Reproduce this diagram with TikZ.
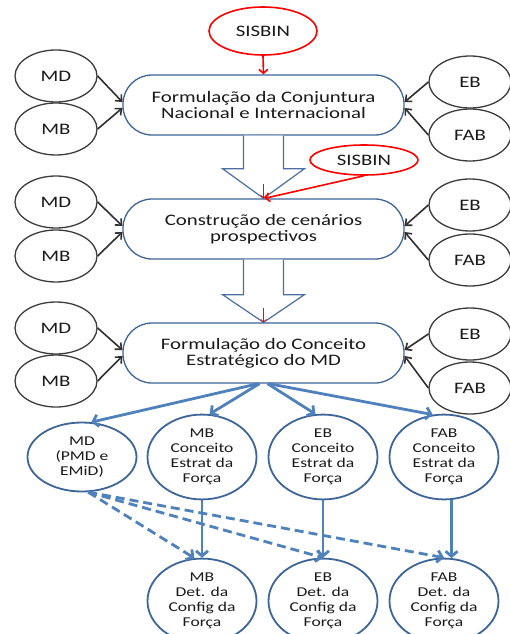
\documentclass[tikz,border=0pt]{standalone}
\usepackage{fontspec}
\setmainfont{Carlito}[FakeStretch=1.3]
\usetikzlibrary{shapes.geometric,arrows.meta,calc}
\definecolor{boxblue}{HTML}{3D6598}
\definecolor{blockblue}{HTML}{4A6FA0}
\definecolor{arrblue}{HTML}{4F81BD}
\definecolor{ellgray}{HTML}{3C3C3C}
\definecolor{arrgray}{HTML}{303030}
\definecolor{txt}{HTML}{1A1A1A}
\begin{document}
\begin{tikzpicture}[x=1pt,y=-1pt,
  bigfont/.style={font=\fontsize{16}{16}\selectfont, text=txt},
  smallfont/.style={font=\fontsize{13.5}{15}\selectfont, text=txt},
  grayell/.style={ellipse, draw=ellgray, line width=1.3pt, minimum width=82pt, minimum height=52pt, inner sep=0pt, bigfont},
  redell/.style={ellipse, draw=red, line width=1.6pt, minimum width=108pt, minimum height=48pt, inner sep=0pt, bigfont},
  mainbox/.style={rectangle, rounded corners=29pt, draw=boxblue, line width=1.3pt, minimum width=281pt, minimum height=60pt, align=center, inner sep=0pt, fill=white, bigfont},
  botell/.style={ellipse, draw=boxblue, line width=1.8pt, minimum width=109pt, minimum height=69pt, inner sep=0pt, smallfont},
  detell/.style={botell, minimum height=62pt},
  grayarr/.style={draw=arrgray, line width=1.6pt, -{Straight Barb[length=5pt,width=9pt]}},
  bluearr/.style={draw=arrblue, line width=2.8pt, -{Straight Barb[length=5pt,width=12pt]}},
  dasharr/.style={bluearr, dash pattern=on 9pt off 5pt},
  redarr/.style={draw=red, line width=1.6pt, -{Straight Barb[length=4pt,width=9pt]}},
  thinred/.style={draw=red, line width=0.6pt, -{Straight Barb[length=3pt,width=6pt]}},
  blockarr/.style={draw=blockblue, line width=1.2pt, fill=white}
]
\useasboundingbox (0,0) rectangle (510,634);
\fill[white] (0,0) rectangle (510,634);

% row 1
\node[redell] (s1) at (263,31) {SISBIN};
\node[mainbox] (b1) at (263.5,105) {Formulação da Conjuntura\\Nacional e Internacional};
\node[grayell] (md1) at (56,76) {MD};
\node[grayell] (mb1) at (56,129) {MB};
\node[grayell] (eb1) at (470,82) {EB};
\node[grayell] (fab1) at (470,135) {FAB};

% row 2
\node[mainbox] (b2) at (263.5,229) {Construção de cenários\\prospectivos};
\node[redell, minimum height=30pt] (s2) at (364,160) {SISBIN};
\node[grayell] (md2) at (56,202) {MD};
\node[grayell] (mb2) at (56,256) {MB};
\node[grayell] (eb2) at (470,205) {EB};
\node[grayell] (fab2) at (470,260) {FAB};

% row 3
\node[mainbox] (b3) at (263.5,353) {Formulação do Conceito\\Estratégico do MD};
\node[grayell] (md3) at (56,328) {MD};
\node[grayell] (mb3) at (56,381) {MB};
\node[grayell] (eb3) at (470,334) {EB};
\node[grayell] (fab3) at (470,388) {FAB};

% bottom rows
\node[botell] (c0) at (82,457) {\raisebox{-4pt}{\begin{tabular}{@{}c@{}}MD\\(PMD e\\EMiD)\end{tabular}}};
\node[botell] (c1) at (202,457) {\raisebox{-4pt}{\begin{tabular}{@{}c@{}}MB\\Conceito\\Estrat da\\Força\end{tabular}}};
\node[botell] (c2) at (323,457) {\raisebox{-4pt}{\begin{tabular}{@{}c@{}}EB\\Conceito\\Estrat da\\Força\end{tabular}}};
\node[botell] (c3) at (444,457) {\raisebox{-4pt}{\begin{tabular}{@{}c@{}}FAB\\Conceito\\Estrat da\\Força\end{tabular}}};
\node[detell] (d1) at (202,601) {\begin{tabular}{@{}c@{}}MB\\Det. da\\Config da\\Força\end{tabular}};
\node[detell] (d2) at (323,601) {\begin{tabular}{@{}c@{}}EB\\Det. da\\Config da\\Força\end{tabular}};
\node[detell] (d3) at (444,601) {\begin{tabular}{@{}c@{}}FAB\\Det. da\\Config da\\Força\end{tabular}};

% block arrows
\draw[blockarr] ($(b1.south)+(-20,0)$) -- ($(b1.south)+(-20,33)$) -- ($(b1.south)+(-41,33)$) -- (b2.north) -- ($(b1.south)+(41,33)$) -- ($(b1.south)+(20,33)$) -- ($(b1.south)+(20,0)$);
\draw[blockarr] ($(b2.south)+(-20,0)$) -- ($(b2.south)+(-20,35)$) -- ($(b2.south)+(-41,35)$) -- (b3.north) -- ($(b2.south)+(41,35)$) -- ($(b2.south)+(20,35)$) -- ($(b2.south)+(20,0)$);

% red arrows
\draw[redarr] (s1.south) -- (b1.north);
\draw[redarr] (s2.south) -- ($(b2.north)+(1,0)$);
\coordinate (r1) at ($(b2.north)+(0,-14)$);
\coordinate (r2) at ($(b3.north)+(0,-14)$);
\draw[thinred] (r1) -- (b2.north);
\draw[thinred] (r2) -- (b3.north);

% gray arrows
\foreach \r in {1,2,3}{
  \draw[grayarr] (md\r.east) -- ($(b\r.west)+(0,-3)$);
  \draw[grayarr] (mb\r.east) -- ($(b\r.west)+(0,3)$);
  \draw[grayarr] (eb\r.west) -- ($(b\r.east)+(0,-3)$);
  \draw[grayarr] (fab\r.west) -- ($(b\r.east)+(0,3)$);
}

% blue arrows
\draw[bluearr] ($(b3.south)+(-5,0)$) -- (c0.75);
\draw[bluearr] ($(b3.south)+(-4,0)$) -- (c1.80);
\draw[bluearr] ($(b3.south)+(4,0)$) -- (c2.100);
\draw[bluearr] ($(b3.south)+(5,0)$) -- (c3.105);
\draw[bluearr] (c1.south) -- (d1.north);
\draw[bluearr] (c2.south) -- (d2.north);
\draw[bluearr] (c3.-80) -- (d3.80);
\draw[dasharr] (c0.-80) -- (d1.100);
\draw[dasharr] (c0.-80) -- (d2.north);
\draw[dasharr] (c0.-80) -- (d3.north);
\end{tikzpicture}
\end{document}
